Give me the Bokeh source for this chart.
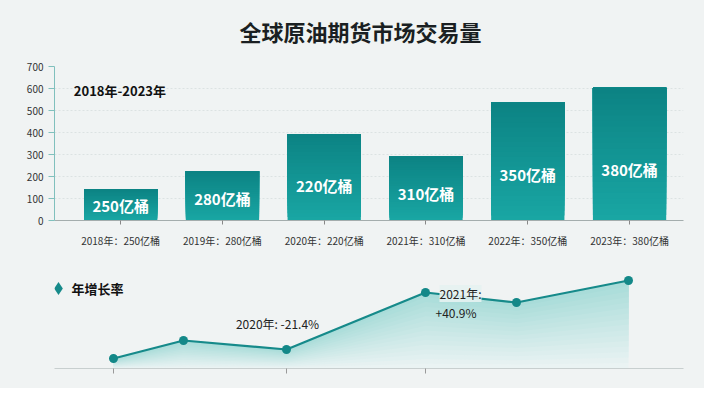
from bokeh.plotting import figure
from bokeh.layouts import column
from bokeh.models import FixedTicker, Label
from bokeh.core.properties import value
from bokeh.embed import file_html
from bokeh.resources import INLINE

# data
title = '全球原油期货市场交易量'
years = ['2018年', '2019年', '2020年', '2021年', '2022年', '2023年']
bar_labels = ['250亿桶', '280亿桶', '220亿桶', '310亿桶', '350亿桶', '380亿桶']
volumes = [142, 224, 393, 291, 536, 603]

growth_x = [59, 129, 232, 371, 462, 574]
growth_y = [10, 28, 19, 76, 66, 88]
growth_ticks = [59, 232, 371]

FONT = 'Noto Sans CJK SC'
BG = '#f0f3f3'
TEAL = '#168a8a'

def mix(c1, c2, t):
    a = [int(c1[i:i + 2], 16) for i in (1, 3, 5)]
    b = [int(c2[i:i + 2], 16) for i in (1, 3, 5)]
    return '#%02x%02x%02x' % tuple(round(a[k] + (b[k] - a[k]) * t) for k in range(3))

def blank(f):
    f.background_fill_color = BG
    f.border_fill_color = BG
    f.outline_line_color = None

# title strip
t = figure(width=704, height=56, x_range=(0, 629), y_range=(0, 56),
           output_backend='svg', toolbar_location=None,
           min_border_left=54, min_border_right=21, min_border_top=0, min_border_bottom=0)
blank(t)
t.axis.visible = False
t.grid.grid_line_color = None
t.add_layout(Label(x=306, y=26, text=title, text_font=FONT, text_font_size='22px',
                   text_font_style='bold', text_color='#1a1f22',
                   text_align='center', text_baseline='middle'))

# top: bar chart
p = figure(width=704, height=202, x_range=(-0.65, 5.53), y_range=(0, 700),
           output_backend='svg', toolbar_location=None,
           min_border_left=54, min_border_right=21, min_border_top=10, min_border_bottom=38)
blank(p)

xs = list(range(len(years)))
steps = 24
# gradient: each strip runs from its own bottom up to the bar top, painted upward
for k in range(steps):
    lo = [v * k / steps for v in volumes]
    p.vbar(x=xs, bottom=lo, top=volumes, width=0.72, line_color=None,
           fill_color=mix('#19a6a3', '#0c8384', k / (steps - 1)))

p.text(x=xs, y=[v * 0.35 + 20 for v in volumes], text=bar_labels,
       text_font=value(FONT), text_font_size='15px', text_font_style='bold',
       text_color='white', text_align='center', text_baseline='middle')

p.add_layout(Label(x=-0.46, y=590, text='2018年-2023年', text_font=FONT,
                   text_font_size='13px', text_font_style='bold', text_color='#111',
                   text_align='left', text_baseline='middle'))

p.xaxis.ticker = FixedTicker(ticks=xs)
p.xaxis.major_label_overrides = {i: '%s：%s' % (years[i], bar_labels[i]) for i in xs}
p.xaxis.major_label_text_font = FONT
p.xaxis.major_label_text_font_size = '10px'
p.xaxis.major_label_text_color = '#333'
p.xaxis.major_label_standoff = 8
p.xaxis.axis_line_color = '#a4adad'
p.xaxis.major_tick_line_color = '#888'
p.xaxis.major_tick_out = 4
p.xaxis.major_tick_in = 0
p.xaxis.minor_tick_line_color = None

p.yaxis.ticker = FixedTicker(ticks=list(range(0, 701, 100)))
p.yaxis.major_label_text_font = FONT
p.yaxis.major_label_text_font_size = '10px'
p.yaxis.major_label_text_color = '#333'
p.yaxis.axis_line_color = '#80c0bd'
p.yaxis.major_tick_line_color = '#80c0bd'
p.yaxis.major_tick_out = 6
p.yaxis.major_tick_in = 0
p.yaxis.minor_tick_line_color = None

p.xgrid.grid_line_color = None
p.ygrid.grid_line_color = '#dce2e2'
p.ygrid.grid_line_dash = '2 2'

# bottom: growth line (frame is aligned with the bar chart's frame by the column)
q = figure(width=704, height=130, x_range=(0, 629), y_range=(0, 103),
           output_backend='svg', toolbar_location=None,
           min_border_left=54, min_border_right=21, min_border_top=7, min_border_bottom=20)
blank(q)

bands = 16
for k in range(bands):
    q.varea(x=growth_x, y1=[v * k / bands for v in growth_y], y2=growth_y,
            fill_color=mix('#eaf3f3', '#a9dcd9', k / (bands - 1)))

q.line(growth_x, growth_y, line_color=TEAL, line_width=2.2)
q.scatter(growth_x, growth_y, size=9, fill_color='#138888', line_color=None)

q.scatter([4], [80], marker='diamond', size=13, fill_color=TEAL, line_color=None)
q.add_layout(Label(x=17, y=80, text='年增长率', text_font=FONT, text_font_size='13px',
                   text_font_style='bold', text_color='#111', text_baseline='middle'))

q.add_layout(Label(x=growth_x[2] - 9, y=growth_y[2] + 26, text='2020年: -21.4%',
                   text_font=FONT, text_font_size='12px', text_color='#222',
                   text_align='center', text_baseline='middle'))
q.add_layout(Label(x=growth_x[3] + 14, y=growth_y[3] - 1, text='2021年:',
                   text_font=FONT, text_font_size='12px', text_color='#222',
                   text_baseline='middle', background_fill_color='#e6f2f1', background_fill_alpha=0.9))
q.add_layout(Label(x=growth_x[3] + 10, y=growth_y[3] - 20, text='+40.9%',
                   text_font=FONT, text_font_size='12px', text_color='#222',
                   text_baseline='middle'))

q.xaxis.ticker = FixedTicker(ticks=growth_ticks)
q.xaxis.major_label_text_color = None
q.xaxis.axis_line_color = '#c8cfcf'
q.xaxis.major_tick_line_color = '#999'
q.xaxis.major_tick_out = 5
q.xaxis.major_tick_in = 0
q.xaxis.minor_tick_line_color = None
q.yaxis.visible = False
q.xgrid.grid_line_color = None
q.ygrid.grid_line_color = None

out = column(t, p, q, styles={'background-color': BG})
open('out.html', 'w').write(file_html(out, INLINE))
